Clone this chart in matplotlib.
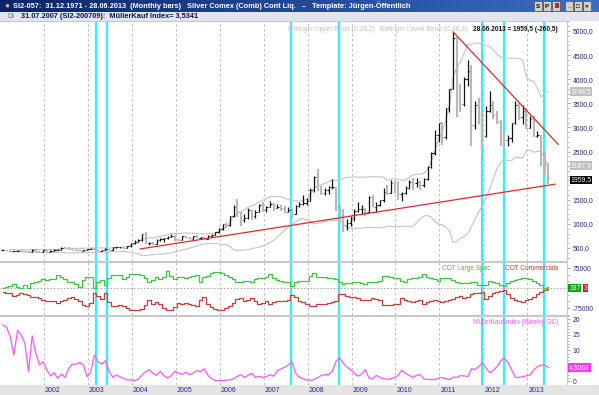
import numpy as np
import pandas as pd
import matplotlib
matplotlib.use("Agg")
import matplotlib.pyplot as plt
from matplotlib.transforms import blended_transform_factory
from matplotlib.patches import Rectangle
from matplotlib.ticker import FixedLocator, MultipleLocator, FuncFormatter

plt.rcParams['font.family'] = ['Liberation Sans', 'DejaVu Sans']

# monthly bars Jan 2001 .. Jun 2013 (cents), one row per year
opens = [458, 460, 445, 430, 437, 440, 435, 425, 420, 465, 420, 415,
         455, 425, 445, 455, 460, 500, 490, 470, 460, 455, 445, 455,
         480, 485, 460, 440, 455, 475, 455, 510, 510, 510, 500, 540,
         595, 630, 660, 790, 600, 610, 590, 660, 685, 700, 735, 755,
         685, 665, 740, 710, 690, 740, 710, 725, 685, 750, 765, 825,
         885, 990, 980, 1155, 1345, 1240, 1090, 1130, 1280, 1155, 1250, 1395,
         1290, 1345, 1420, 1335, 1340, 1320, 1245, 1290, 1210, 1375, 1420, 1440,
         1480, 1705, 1980, 1725, 1645, 1695, 1755, 1755, 1360, 1290, 975, 1020,
         1130, 1260, 1310, 1310, 1250, 1560, 1360, 1390, 1490, 1660, 1645, 1855,
         1690, 1620, 1640, 1750, 1870, 1845, 1870, 1800, 1940, 2180, 2470, 2850,
         3090, 2795, 3400, 3790, 4860, 3830, 3490, 4000, 4160, 3040, 3460, 3270,
         2820, 3340, 3460, 3250, 3120, 2820, 2740, 2780, 3100, 3460, 3220, 3340,
         2995, 3180, 2830, 2840, 2420, 2220]
highs = [480, 465, 448, 445, 455, 448, 440, 430, 480, 470, 430, 460,
         465, 450, 475, 470, 510, 512, 510, 475, 470, 460, 460, 485,
         500, 495, 465, 465, 490, 480, 520, 530, 530, 520, 545, 600,
         665, 690, 800, 830, 630, 630, 680, 700, 710, 750, 790, 775,
         690, 750, 750, 730, 745, 760, 730, 735, 760, 785, 830, 915,
         1000, 1010, 1170, 1400, 1510, 1250, 1200, 1330, 1290, 1290, 1420, 1450,
         1380, 1480, 1440, 1420, 1400, 1375, 1340, 1310, 1390, 1450, 1590, 1540,
         1740, 2000, 2140, 1790, 1740, 1780, 1930, 1765, 1400, 1300, 1100, 1160,
         1300, 1450, 1400, 1320, 1580, 1600, 1450, 1500, 1740, 1800, 1900, 1920,
         1880, 1660, 1790, 1900, 1950, 1950, 1880, 1960, 2200, 2500, 2950, 3100,
         3120, 3400, 3800, 4980, 4880, 3900, 4050, 4400, 4300, 3550, 3600, 3340,
         3450, 3750, 3550, 3350, 3150, 2900, 2840, 3100, 3540, 3500, 3460, 3400,
         3240, 3240, 2920, 2850, 2500, 2260]
lows = [455, 440, 425, 428, 430, 428, 420, 415, 415, 415, 405, 410,
        420, 420, 440, 450, 455, 480, 460, 450, 450, 440, 440, 450,
        475, 455, 435, 435, 450, 450, 450, 495, 495, 485, 495, 530,
        590, 620, 655, 585, 555, 560, 585, 640, 630, 690, 720, 650,
        640, 660, 700, 680, 685, 705, 690, 680, 680, 740, 760, 820,
        880, 910, 965, 1150, 1150, 950, 1030, 1110, 1090, 1120, 1240, 1250,
        1240, 1340, 1260, 1320, 1270, 1220, 1240, 1130, 1200, 1340, 1400, 1390,
        1470, 1660, 1690, 1600, 1600, 1610, 1730, 1260, 1040, 840, 880, 950,
        1050, 1250, 1200, 1170, 1240, 1350, 1250, 1370, 1460, 1600, 1640, 1650,
        1500, 1480, 1610, 1720, 1700, 1760, 1700, 1760, 1900, 2160, 2420, 2700,
        2630, 2760, 3330, 3790, 3220, 3320, 3450, 3850, 2620, 2970, 3070, 2620,
        2800, 3320, 3170, 3080, 2610, 2600, 2620, 2700, 3080, 3150, 3070, 2960,
        2990, 2810, 2800, 2200, 2010, 1820]
closes = [460, 445, 430, 437, 440, 435, 425, 420, 465, 420, 415, 455,
          425, 445, 455, 460, 500, 490, 470, 460, 455, 445, 455, 480,
          485, 460, 440, 455, 475, 455, 510, 510, 510, 500, 540, 595,
          630, 660, 790, 600, 610, 590, 660, 685, 700, 735, 755, 685,
          665, 740, 710, 690, 740, 710, 725, 685, 750, 765, 825, 885,
          990, 980, 1155, 1345, 1240, 1090, 1130, 1280, 1155, 1250, 1395, 1290,
          1345, 1420, 1335, 1340, 1320, 1245, 1290, 1210, 1375, 1420, 1440, 1480,
          1705, 1980, 1725, 1645, 1695, 1755, 1755, 1360, 1290, 975, 1020, 1130,
          1260, 1310, 1310, 1250, 1560, 1360, 1390, 1490, 1660, 1645, 1855, 1690,
          1620, 1640, 1750, 1870, 1845, 1870, 1800, 1940, 2180, 2470, 2850, 3090,
          2795, 3400, 3790, 4860, 3830, 3490, 4000, 4160, 3040, 3460, 3270, 2820,
          3340, 3460, 3250, 3120, 2820, 2740, 2780, 3100, 3460, 3220, 3340, 2995,
          3180, 2830, 2840, 2420, 2220, 1959.5]

# COT net positions (thousand contracts), monthly
cot_spec = [-1, 5, 8, 15, 5, 0, 11, 0, 17, 23, 27, 32,
            29, 32, 33, 50, 41, 32, 23, 23, 15, 2, 29, 41,
            41, 0, 23, 29, 11, 39, 50, 48, 48, 32, 41, 54,
            54, 54, 48, 39, 23, 30, 43, 34, 40, 63, 46, 34,
            40, 43, 37, 43, 46, 49, 22, 40, 46, 55, 61, 59,
            55, 49, 43, 34, 24, 22, 27, 27, 24, 34, 39, 37,
            43, 51, 39, 30, 27, 24, 22, 6, 24, 27, 27, 27,
            46, 55, 43, 43, 43, 39, 37, 34, 22, 15, 17, 20,
            22, 22, 17, 15, 24, 22, 24, 27, 46, 44, 41, 39,
            37, 27, 24, 34, 37, 39, 43, 51, 43, 37, 34, 27,
            37, 39, 39, 29, 23, 20, 20, 17, 21, 23, 11, 11,
            11, 27, 24, 20, 10, 7, 17, 27, 29, 35, 38, 39,
            32, 27, 20, 11, 1, 3]
cot_comm = [-13, -17, -20, -29, -26, -20, -23, -26, -32, -34, -39, -44,
            -50, -48, -50, -56, -50, -44, -38, -34, -41, -50, -62, -68,
            -56, -20, -29, -41, -20, -54, -66, -68, -63, -66, -74, -83,
            -84, -83, -78, -62, -46, -59, -52, -61, -73, -81, -82, -71,
            -55, -59, -55, -59, -63, -67, -43, -34, -61, -71, -79, -83,
            -81, -73, -67, -55, -40, -39, -49, -43, -39, -49, -59, -55,
            -49, -61, -51, -49, -49, -49, -43, -27, -34, -49, -54, -61,
            -68, -67, -61, -61, -61, -55, -51, -49, -24, -22, -28, -32,
            -34, -37, -44, -46, -43, -39, -41, -44, -63, -63, -63, -61,
            -59, -39, -46, -49, -51, -49, -46, -59, -54, -49, -46, -49,
            -51, -49, -43, -40, -32, -29, -38, -34, -22, -20, -17, -13,
            -41, -29, -20, -16, -10, -7, -22, -38, -44, -48, -51, -46,
            -41, -32, -22, -13, -7, -5]

# MuellerKauf index, monthly
mki = [18.2, 17.5, 14.5, 8.5, 16.5, 15.0, 12.3, 3.2, 14.7, 9.1, 5.3, 6.4,
       3.7, 1.8, 2.8, 1.0, 2.4, 1.3, 4.2, 5.6, 5.6, 6.1, 5.3, 1.5,
       3.2, 8.5, 6.4, 5.6, 6.7, 3.2, 1.3, 2.1, 1.5, 1.0, 0.5, 0.5,
       0.3, 0.7, 2.1, 3.2, 3.8, 2.6, 2.0, 3.3, 1.9, 1.1, 1.9, 3.3,
       2.7, 2.3, 3.0, 2.2, 2.7, 3.5, 3.1, 4.1, 2.0, 0.9, 0.3, 0.3,
       0.3, 0.4, 0.5, 0.9, 1.6, 2.2, 1.3, 2.0, 2.6, 1.3, 1.7, 1.3,
       1.6, 2.2, 1.7, 3.5, 4.1, 4.6, 5.4, 6.3, 2.6, 1.4, 0.9, 0.5,
       0.4, 0.6, 1.3, 1.9, 2.2, 2.2, 3.3, 6.5, 7.6, 5.9, 4.6, 3.8,
       2.7, 1.7, 2.4, 3.8, 1.1, 0.8, 2.0, 1.3, 0.9, 0.7, 0.9, 1.3,
       2.0, 3.7, 2.6, 2.0, 1.3, 2.0, 2.2, 0.8, 0.7, 0.6, 0.6, 1.1,
       1.3, 0.9, 0.6, 1.4, 1.3, 1.9, 1.8, 1.6, 4.1, 3.9, 4.8, 6.1,
       4.2, 2.8, 3.7, 4.8, 6.7, 7.5, 6.1, 3.7, 1.3, 1.3, 1.6, 1.8,
       2.1, 3.7, 4.8, 5.3, 5.3, 4.5068]

years = list(range(2002, 2014))
signal_months = [25.4, 28.4, 78.7, 91.8, 130.9, 137.0, 147.8]
support_line = ([37.5, 150.8], [480, 1822])
resist_line = ([123.0, 151.7], [4980, 2649])

n = len(closes)
m = np.arange(n)
o = np.array(opens, float); h = np.array(highs, float)
lo = np.array(lows, float); c = np.array(closes, float)

ma = pd.Series(c).rolling(20, min_periods=3).mean()
sd = pd.Series(c).rolling(20, min_periods=3).std(ddof=0)
upper = ma + 2 * sd
lower = ma - 2 * sd

W, H = 599, 395
fig = plt.figure(figsize=(W / 100, H / 100), dpi=100)
fig.patch.set_facecolor("white")

def fy(px):
    return 1 - px / H

def comma(v, nd=1):
    return f"{v:.{nd}f}".replace(".", ",")

navy = "#2a2a8a"
xlim = (-0.79, 154.1)
ax_w = 567 / W
lab_fs = 4.9
leg_fs = 4.7

ax1 = fig.add_axes([0, fy(261), ax_w, (261 - 21) / H])
ax2 = fig.add_axes([0, fy(315), ax_w, (315 - 262) / H])
ax3 = fig.add_axes([0, fy(385), ax_w, (385 - 316) / H])

grid_x = [12 * (y - 2001) - 0.75 for y in years]

for ax in (ax1, ax2, ax3):
    ax.set_xlim(*xlim)
    ax.set_xticks([])
    for s in ax.spines.values():
        s.set_color("#c8c8c8")
        s.set_linewidth(0.8)
    ax.spines["left"].set_visible(False)
    for gx in grid_x:
        ax.axvline(gx, color="#b4b4b4", lw=0.6, ls=(0, (3, 3)), zorder=0)
    for sx in signal_months:
        ax.axvline(sx, color="#33eeff", lw=1.6, zorder=1)
    ax.yaxis.tick_right()
    ax.tick_params(axis="y", which="both", colors="#a0a0a0", labelcolor=navy,
                   labelsize=lab_fs, length=2.5, width=0.6, pad=1.5)
    ax.tick_params(axis="y", which="minor", length=1.5)

# price panel (the 2000 label sits under the last-value boxes)
ax1.set_ylim(230, 5207)
up = c >= o
for col, mask, lw in (("#111111", up, 0.9), ("#b8b8b8", ~up, 1.5)):
    ax1.vlines(m[mask], lo[mask], h[mask], color=col, lw=lw, zorder=3)
    ax1.hlines(o[mask], m[mask] - 0.4, m[mask], color=col, lw=0.8, zorder=3)
    ax1.hlines(c[mask], m[mask], m[mask] + 0.4, color=col, lw=0.8, zorder=3)
ax1.plot(m, upper, color="#c4c4c4", lw=0.8, zorder=2)
ax1.plot(m, lower, color="#c4c4c4", lw=0.8, zorder=2)
ax1.plot(*support_line, color="#dd2a2a", lw=0.9, zorder=4)
ax1.plot(*resist_line, color="#dd2a2a", lw=0.9, zorder=4)
ax1.yaxis.set_major_locator(FixedLocator([v for v in range(500, 5001, 500) if v != 2000]))
ax1.yaxis.set_minor_locator(MultipleLocator(100))
ax1.yaxis.set_major_formatter(FuncFormatter(lambda v, p: comma(v)))

tr1 = blended_transform_factory(ax1.transAxes, ax1.transData)
box = dict(boxstyle="square,pad=0.12", ec="none")
ax1.text(1.006, upper.iloc[-1], comma(upper.iloc[-1]), transform=tr1, fontsize=lab_fs,
         color="white", va="center", ha="left", bbox=dict(box, fc="#c0c0c0"), zorder=6)
ax1.text(1.006, lower.iloc[-1] + 40, comma(lower.iloc[-1]), transform=tr1, fontsize=lab_fs,
         color="white", va="center", ha="left", bbox=dict(box, fc="#c0c0c0"), zorder=6)
ax1.text(1.006, c[-1] - 50, comma(c[-1]), transform=tr1, fontsize=lab_fs,
         color="white", va="center", ha="left", bbox=dict(box, fc="#000000"), zorder=6)
ax1.text(467 / 567, 0.978, "Bollinger Upper Band (C,20,2)   Bollinger Lower Band (C,20,2)",
         transform=ax1.transAxes, fontsize=leg_fs, color="#c4c4c4", va="top", ha="right")
ax1.text(558 / 567, 0.978, "28.06.2013 = 1959,5 (-260,5)", transform=ax1.transAxes,
         fontsize=leg_fs, color="#111111", va="top", ha="right", fontweight="bold")

# COT panel
ax2.set_ylim(-101000, 97500)
ax2.axhline(0, color="#a0a0a0", lw=0.6, ls=(0, (2, 2)), zorder=1)
ax2.plot(m, np.array(cot_spec) * 1000, color="#3cc83c", lw=0.9, drawstyle="steps-mid", zorder=3)
ax2.plot(m, np.array(cot_comm) * 1000, color="#d03a3a", lw=0.9, drawstyle="steps-mid", zorder=3)
ax2.yaxis.set_major_locator(FixedLocator([-75000, 75000]))
ax2.yaxis.set_minor_locator(MultipleLocator(25000))
ax2.yaxis.set_major_formatter(FuncFormatter(lambda v, p: f"{v:.0f}"))
tr2 = blended_transform_factory(ax2.transAxes, ax2.transData)
ax2.text(1.004, 0, "337", transform=tr2, fontsize=lab_fs, color="white", va="center",
         ha="left", bbox=dict(box, fc="#10a010"), zorder=6)
ax2.text(1.029, 0, "3", transform=tr2, fontsize=lab_fs, color="white", va="center",
         ha="left", bbox=dict(box, fc="#c82020"), zorder=5)
ax2.text(491 / 567, 0.94, "COT Large Spec", transform=ax2.transAxes, fontsize=leg_fs,
         color="#3cc83c", va="top", ha="right")
ax2.text(558 / 567, 0.94, "COT Commercials", transform=ax2.transAxes, fontsize=leg_fs,
         color="#d03a3a", va="top", ha="right")

# MuellerKauf panel (the 5 label sits under the last-value box)
ax3.set_ylim(-1.13, 21.1)
ax3.plot(m, mki, color="#ff55ff", lw=0.9, zorder=3)
ax3.yaxis.set_major_locator(FixedLocator([0, 10, 15, 20]))
ax3.yaxis.set_minor_locator(MultipleLocator(1))
ax3.yaxis.set_major_formatter(FuncFormatter(lambda v, p: f"{v:.0f}"))
tr3 = blended_transform_factory(ax3.transAxes, ax3.transData)
ax3.text(1.004, mki[-1], comma(mki[-1], 4), transform=tr3, fontsize=lab_fs, color="white",
         va="center", ha="left", bbox=dict(box, fc="#ff33ff"), zorder=6)
ax3.text(558 / 567, 0.96, "MüllerKaufIndex (Weekly,GC)", transform=ax3.transAxes,
         fontsize=leg_fs, color="#ff55ff", va="top", ha="right")

# x axis strip with year labels
fig.patches.append(Rectangle((0, 0), 1, 10 / H, transform=fig.transFigure,
                             fc="#e4e4e4", ec="none", zorder=0))
for y, gx in zip(years, grid_x):
    xf = (gx - xlim[0]) / (xlim[1] - xlim[0]) * ax_w
    fig.text(xf + 1 / W, fy(390), str(y), fontsize=5.0, color=navy, va="center", ha="left")

# window title bar
axt = fig.add_axes([0, fy(12), 1, 12 / H])
grad = np.linspace(0, 1, 256)[None, :]
cmap = matplotlib.colors.LinearSegmentedColormap.from_list("tb", ["#0a246a", "#3a6ec4"])
axt.imshow(grad, aspect="auto", cmap=cmap, extent=(0, 1, 0, 1))
axt.set_axis_off()
axt.text(4 / W, 0.5, "●", color="#d8c070", fontsize=6, va="center", ha="left")
axt.text(13 / W, 0.5, "SI2-057:  31.12.1971 - 28.06.2013  (Monthly bars)   Silver Comex (Comb) Cont Liq.   \u2013   Template: Jürgen-Öffentlich",
         color="white", fontsize=5.3, fontweight="bold", va="center", ha="left")
for bx, lab in ((534, "S"), (543, "P"), (552, ""), (565, "_"), (574, "□"), (583, "×")):
    axt.add_patch(Rectangle((bx / W, 0.12), 8 / W, 0.76, fc="#d4d0c8", ec="#404040", lw=0.4,
                            transform=axt.transAxes))
    if bx == 552:
        axt.add_patch(Rectangle(((bx + 3) / W, 0.3), 4 / W, 0.45, fc="#d02020", ec="none",
                                transform=axt.transAxes))
    axt.text((bx + 4) / W, 0.5, lab, fontsize=4.5, fontweight="bold", color="black",
             va="center", ha="center", transform=axt.transAxes)

# status row
axs = fig.add_axes([0, fy(21), 1, 9 / H])
axs.set_axis_off()
axs.add_patch(Rectangle((0, 0), 1, 1, fc="#e2e4ee", ec="none", transform=axs.transAxes))
axs.text(7 / W, 0.5, "Di", fontsize=5.0, color="#707070", va="center", ha="left")
axs.text(21 / W, 0.5, "31.07.2007 (SI2-200709):  MüllerKauf Index= 3,5341", fontsize=5.3,
         color="#10105a", fontweight="bold", va="center", ha="left")

fig.savefig("out.png", dpi=100)
